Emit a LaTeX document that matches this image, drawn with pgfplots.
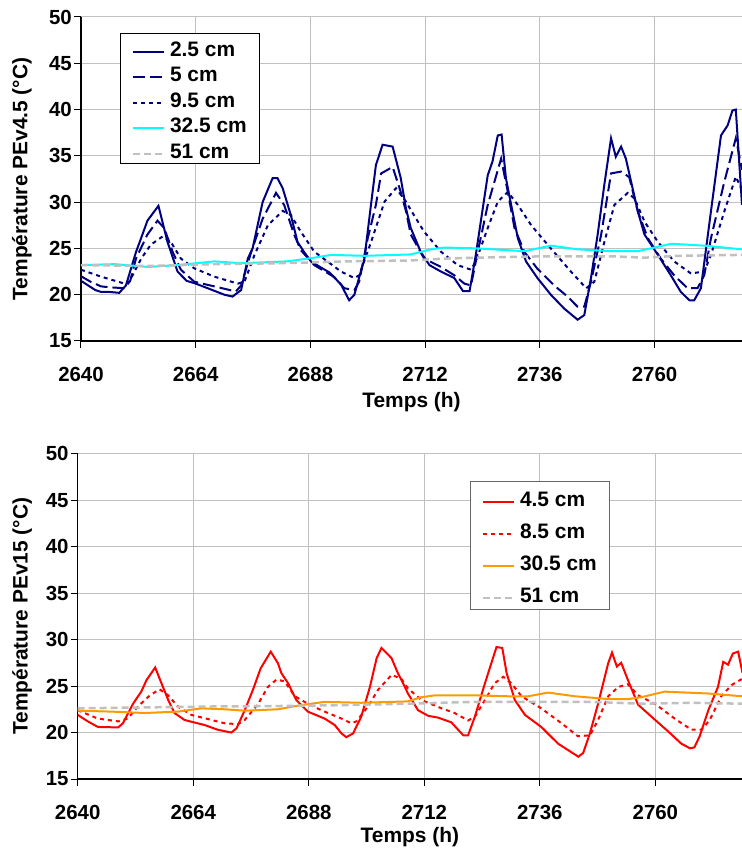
\documentclass[border=0pt]{standalone}
\usepackage{fontspec}
\setmainfont{Liberation Sans}
\usepackage{pgfplots}
\pgfplotsset{compat=1.18}
\definecolor{navy}{RGB}{0,0,128}
\definecolor{aqua}{RGB}{0,255,255}
\definecolor{gridgray}{RGB}{192,192,192}
\definecolor{orng}{RGB}{255,153,0}
\definecolor{lgray}{RGB}{192,192,192}
\newcommand{\tickbf}{\bfseries\fontsize{20.5}{24}\selectfont}
\newcommand{\bigbf}{\bfseries\fontsize{21}{25}\selectfont}
\pgfplotsset{
 common/.style={
  scale only axis,
  ymin=15, ymax=50,
  xmin=2640,
  xtick={2640,2664,2688,2712,2736,2760},
  ytick={15,20,25,30,35,40,45,50},
  axis x line*=bottom, axis y line*=left,
  axis line style={-, black, line width=1.2bp},
  tick align=outside, major tick length=7bp,
  tick style={black, line width=1bp},
  grid=major,
  major grid style={gridgray, line width=1bp},
  /pgf/number format/assume math mode=true,
  /pgf/number format/1000 sep={},
  tick label style={font=\tickbf},
  label style={font=\bigbf},
  xticklabel style={anchor=center, yshift=-26bp},
  yticklabel style={anchor=east, inner sep=0pt, xshift=-2bp},
  legend cell align=left,
  legend image code/.code={\draw[#1] (0bp,-4.5bp) -- (31bp,-4.5bp);},
 },
}
\begin{document}
\begin{tikzpicture}[x=1bp,y=1bp]
\useasboundingbox (0,0) rectangle (742,849);
\coordinate (TopSW) at (81,508);
\coordinate (BotSW) at (77.7,70);
% ---------------- top chart
\begin{axis}[common,
  at={(TopSW)}, anchor=south west,
  width=661bp, height=324bp, xmax=2778.3,
  xlabel={Temps (h)}, ylabel={Température PEv4.5 (°C)},
  xlabel style={at={(axis description cs:0.5,-0.188)}, anchor=center},
  ylabel style={at={(axis description cs:-0.0893,0.5)}, anchor=center, rotate=0},
  legend style={at={(rel axis cs:0.059,0.951)}, anchor=north west, draw=black, line width=1bp,
    font=\bigbf, inner xsep=11bp, inner ysep=3bp, row sep=3.5bp, column sep=3bp,
    nodes={inner sep=2bp, text height=18bp, text depth=0bp}},
]
\addplot[navy, line width=2bp] coordinates {(2640,21.5) (2641.5,21.0) (2643,20.5) (2644.2,20.3) (2646,20.3) (2648,20.2) (2649.4,21.0) (2651.5,24.6) (2652.5,26.0) (2653.9,28.0) (2656.2,29.6) (2658.1,25.7) (2660.2,22.5) (2662.1,21.5) (2664,21.2) (2666,20.8) (2668,20.4) (2670,20.0) (2671.7,19.8) (2673.5,20.5) (2674.9,23.9) (2675.9,25.0) (2678,30.0) (2680.1,32.6) (2681.1,32.6) (2682.2,31.5) (2683.9,28.6) (2685.3,25.7) (2686.7,24.6) (2688.1,23.6) (2690,23.0) (2692,22.4) (2694.4,21.1) (2696.1,19.4) (2697.2,20.0) (2699.3,23.9) (2700.5,29.0) (2701.7,34.0) (2703.1,36.2) (2705.2,36.0) (2706.9,32.6) (2708,29.3) (2709,27.2) (2711.1,24.6) (2712.9,23.2) (2715.3,22.5) (2718.1,21.8) (2719.9,20.4) (2721.3,20.4) (2722.6,24.3) (2725.1,32.9) (2726.1,34.4) (2727.2,37.2) (2728,37.3) (2728.9,32.6) (2730,29.7) (2731.4,26.1) (2733.1,23.6) (2735.5,21.8) (2738.3,20.0) (2741.1,18.5) (2743.9,17.3) (2745.3,17.8) (2746.7,21.8) (2748.1,26.5) (2749.5,31.9) (2750.9,36.9) (2751.9,34.9) (2753,36.0) (2754,34.7) (2755.1,32.2) (2756.5,29.0) (2757.9,26.5) (2760.7,24.3) (2763.4,22.1) (2765.5,20.3) (2767.3,19.4) (2768.3,19.4) (2769.7,20.7) (2771.8,29.0) (2773.9,37.2) (2775.3,38.3) (2776.3,39.9) (2777,40.0) (2778.3,29.7)};
\addlegendentry{2.5 cm}
\addplot[navy, line width=2bp, dash pattern=on 12bp off 5bp] coordinates {(2640,22.0) (2642,21.4) (2644.2,20.9) (2646,20.8) (2649.1,20.7) (2650.3,21.5) (2651.5,23.9) (2653.9,26.5) (2656,28.0) (2657.4,27.2) (2659.2,24.6) (2660.9,22.7) (2663.7,21.4) (2667.9,20.9) (2672.4,20.35) (2673.5,21.0) (2675.6,24.6) (2678,28.2) (2680.8,31.0) (2682.5,29.7) (2684.6,26.5) (2686,24.8) (2688.8,23.2) (2693,21.9) (2695.1,20.7) (2697.2,20.5) (2698.2,21.4) (2700,26.1) (2701.7,29.7) (2702.8,33.1) (2705.2,33.8) (2706.9,31.1) (2708,29.0) (2709,26.5) (2711.8,23.9) (2715.3,23.0) (2718.1,22.1) (2720.2,21.2) (2721.6,21.0) (2723,24.6) (2725.1,29.7) (2727.9,34.7) (2729.3,31.1) (2730.7,27.2) (2732.8,24.6) (2735.5,22.8) (2739,21.0) (2741.8,19.8) (2743.9,18.7) (2745.3,18.7) (2746.7,21.4) (2748.8,26.4) (2750.9,33.1) (2753,33.3) (2754.7,32.7) (2756.5,29.0) (2758.6,26.1) (2761.3,23.9) (2764.1,22.1) (2766.9,20.7) (2769,20.7) (2770.4,22.1) (2771.8,26.1) (2774.6,32.2) (2777,36.9) (2778.3,33.5)};
\addlegendentry{5 cm}
\addplot[navy, line width=2bp, dash pattern=on 4bp off 4bp] coordinates {(2640,22.7) (2644.2,21.95) (2649.1,21.2) (2650.1,21.4) (2652.6,23.9) (2654.6,25.4) (2657.1,26.3) (2658.8,25.7) (2660.9,23.9) (2663.7,22.85) (2667.9,21.95) (2672.8,21.2) (2674.2,21.4) (2676.3,24.3) (2679.1,27.5) (2682.2,29.05) (2683.9,28.6) (2686,26.8) (2688.8,24.65) (2694.4,22.5) (2697.2,21.8) (2698.2,22.1) (2700.7,25.7) (2703.5,30.05) (2705.9,31.5) (2708,30.05) (2709,29.15) (2711.8,26.8) (2715.3,24.65) (2718.8,23.2) (2721.6,22.7) (2722.6,23.6) (2725.1,27.2) (2727.2,30.05) (2729.3,31.1) (2731.4,29.7) (2734.2,27.5) (2738.3,25.0) (2742.5,22.5) (2745.7,20.7) (2747.4,21.4) (2749.5,25.7) (2751.6,29.7) (2754.4,31.0) (2755.8,30.4) (2757.9,27.9) (2760.7,25.7) (2764.1,23.6) (2767.6,22.3) (2770.4,22.5) (2771.8,24.3) (2774.6,29.0) (2777,32.75) (2778.3,31.3)};
\addlegendentry{9.5 cm}
\addplot[aqua, line width=2bp] coordinates {(2640,23.2) (2647,23.3) (2654,23.0) (2660.2,23.2) (2667.9,23.6) (2673.5,23.4) (2683.2,23.6) (2688.8,24.0) (2692.3,24.3) (2699.3,24.2) (2709,24.35) (2713.2,24.9) (2716,25.1) (2723,25.0) (2732.8,24.7) (2738.3,25.3) (2743.9,24.9) (2750.9,24.7) (2756.5,24.7) (2763.5,25.5) (2770.4,25.3) (2778.3,24.9)};
\addlegendentry{32.5 cm}
\addplot[lgray, line width=2.5bp, dash pattern=on 7bp off 4bp] coordinates {(2640,23.2) (2654,23.1) (2667.9,23.3) (2681.8,23.4) (2695.8,23.6) (2709,23.7) (2716,23.9) (2723,24.0) (2737,24.15) (2750.9,24.15) (2757.9,24.0) (2764.8,24.2) (2778.3,24.3)};
\addlegendentry{51 cm}
\end{axis}
% ---------------- bottom chart
\begin{axis}[common,
  at={(BotSW)}, anchor=south west,
  width=664.3bp, height=325.3bp, xmax=2778.0,
  xlabel={Temps (h)}, ylabel={Température PEv15 (°C)},
  xlabel style={at={(axis description cs:0.5,-0.178)}, anchor=center},
  ylabel style={at={(axis description cs:-0.0838,0.5)}, anchor=center, rotate=0},
  legend style={at={(rel axis cs:0.5906,0.916)}, anchor=north west, draw=black!60, line width=1bp,
    font=\bigbf, inner xsep=11bp, inner ysep=5bp, row sep=10bp, column sep=3bp,
    nodes={inner sep=2bp, text height=18bp, text depth=0bp}},
]
\addplot[red, line width=2bp] coordinates {(2640,21.9) (2642.1,21.2) (2644.2,20.6) (2648.4,20.55) (2649.4,21.0) (2651.5,23.1) (2653.2,24.4) (2654.3,25.65) (2656.1,27.0) (2657.4,25.3) (2658.8,23.5) (2660.1,22.1) (2662.2,21.35) (2666.4,20.8) (2669.1,20.3) (2671.9,20.0) (2673,20.45) (2674.7,22.4) (2676.4,24.6) (2678,26.9) (2680.1,28.7) (2681.6,27.45) (2682.3,26.4) (2683.7,25.3) (2685.4,23.5) (2687.8,22.25) (2691.3,21.5) (2693.4,20.8) (2694.8,19.9) (2695.8,19.5) (2697.2,19.9) (2698.9,21.7) (2700.7,24.9) (2702.1,28.0) (2703.1,29.1) (2705.2,28.0) (2706.5,26.4) (2707.6,25.3) (2708.6,24.2) (2710.7,22.4) (2712.8,21.8) (2714.9,21.6) (2717.6,21.1) (2720.1,19.7) (2721.1,19.7) (2722.5,21.7) (2724.6,25.3) (2727,29.2) (2728.2,29.1) (2729.1,26.4) (2730.8,23.5) (2732.9,21.9) (2736.3,20.6) (2739.8,18.8) (2744,17.4) (2745,17.8) (2746.4,19.9) (2748.1,23.1) (2750.2,27.45) (2751,28.6) (2752,27.1) (2752.9,27.5) (2754.3,25.65) (2756.4,23.0) (2759.2,21.7) (2762.7,20.1) (2765.4,18.8) (2767.2,18.3) (2768.1,18.4) (2769.2,19.6) (2771,22.4) (2773,24.9) (2774.1,27.6) (2775.1,27.3) (2776.1,28.5) (2777.2,28.7) (2778.1,26.4)};
\addlegendentry{4.5 cm}
\addplot[red, line width=2bp, dash pattern=on 4bp off 4bp] coordinates {(2640,22.4) (2644.2,21.5) (2648.4,21.2) (2650.4,21.5) (2652.5,22.8) (2655,24.0) (2657,24.65) (2658.8,24.0) (2660.8,22.8) (2663.6,21.9) (2667.8,21.35) (2670.5,21.0) (2673.3,20.9) (2674.7,21.35) (2677.5,23.1) (2679.5,24.9) (2681.3,25.7) (2683,25.5) (2685.1,23.9) (2687.8,23.1) (2690.6,22.4) (2694.8,21.5) (2696.8,21.0) (2697.9,21.2) (2700.3,22.8) (2702.4,24.6) (2705.2,26.2) (2707.2,25.8) (2708.6,24.75) (2711.4,23.5) (2715.6,22.6) (2718.3,22.1) (2721.1,21.3) (2722.5,21.7) (2724.6,23.5) (2726.6,25.3) (2728.4,26.0) (2730.1,25.3) (2732.2,23.9) (2736.3,22.6) (2740.5,21.0) (2743.9,19.6) (2746.4,19.7) (2748.1,21.35) (2750.2,23.9) (2752.3,24.9) (2754.3,25.2) (2756.4,24.0) (2759.9,23.1) (2764,21.5) (2767.5,20.3) (2769.6,20.3) (2771.3,21.35) (2773.7,23.9) (2775.8,25.1) (2778.1,25.8)};
\addlegendentry{8.5 cm}
\addplot[orng, line width=2bp] coordinates {(2640,22.35) (2647,22.25) (2653.9,22.1) (2660.8,22.25) (2665.7,22.6) (2670.5,22.5) (2674.7,22.35) (2681.6,22.5) (2685.8,22.9) (2688.5,23.1) (2691.3,23.3) (2698.9,23.2) (2708.6,23.35) (2711.4,23.8) (2714.2,24.0) (2722.5,24.0) (2729.4,23.9) (2733.6,23.9) (2737.7,24.3) (2743.3,23.9) (2750.2,23.6) (2754.3,23.6) (2757.1,23.8) (2761.9,24.4) (2770.9,24.2) (2778.1,23.9)};
\addlegendentry{30.5 cm}
\addplot[lgray, line width=2.5bp, dash pattern=on 7bp off 4bp] coordinates {(2640,22.6) (2653.9,22.7) (2667.8,22.8) (2681.6,22.85) (2695.5,22.95) (2708.6,23.1) (2722.5,23.3) (2736.3,23.3) (2746.7,23.3) (2757.1,23.1) (2767.5,23.2) (2778.1,23.1)};
\addlegendentry{51 cm}
\end{axis}
\end{tikzpicture}
\end{document}
